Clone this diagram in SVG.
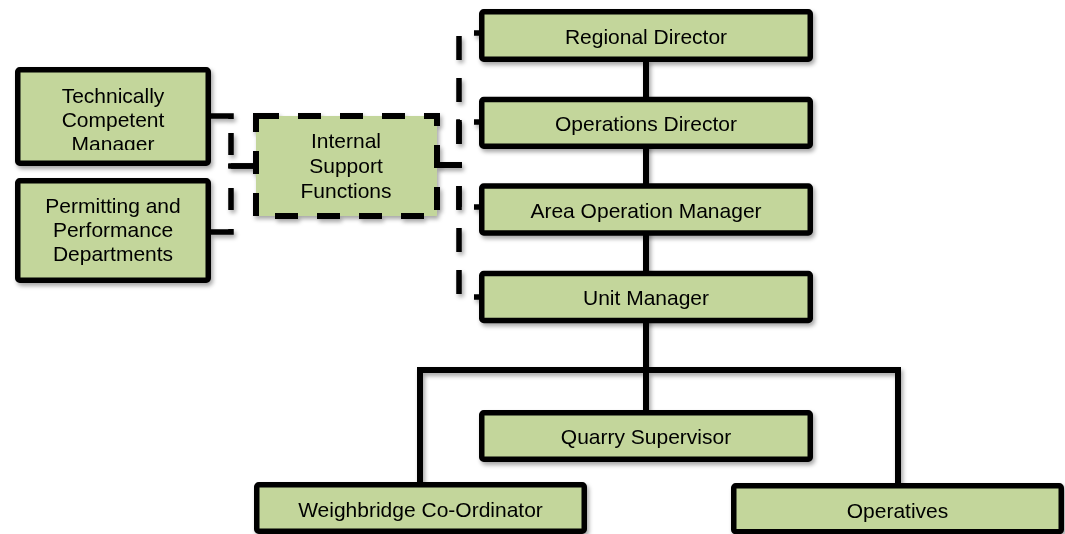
<svg xmlns="http://www.w3.org/2000/svg" width="1065" height="534" viewBox="0 0 1065 534">
<defs>
<filter id="sh" x="-10%" y="-20%" width="130%" height="150%">
<feDropShadow dx="2" dy="3" stdDeviation="2" flood-color="#000" flood-opacity="0.35"/>
</filter>
<clipPath id="clipTCM"><rect x="15" y="67" width="196" height="83"/></clipPath>
</defs>
<style>
.box{fill:#c3d69b;stroke:#000;stroke-width:5.5;stroke-linejoin:round}
.dbox{fill:#c3d69b;stroke:#000;stroke-width:6;stroke-dasharray:23 19}
.t{font-family:"Liberation Sans",Arial,sans-serif;font-size:21px;fill:#000;text-anchor:middle}
.solid{fill:none;stroke:#000;stroke-width:6}
.dash{fill:none;stroke:#000;stroke-width:5.5;stroke-dasharray:24 18}
</style>
<rect width="1065" height="534" fill="#fff"/>
<g id="connectors" filter="url(#sh)">
<path class="solid" d="M646,60 V412"/>
<path class="solid" d="M420,484 V370 H898 V486"/>
<path class="dash" d="M438,165 H459 V33 H480"/>
<path class="dash" style="stroke-dasharray:24 18 23 14 10" d="M438,165 H459 V122 H480"/>
<path class="dash" style="stroke-dasharray:24 18 22 14 10" d="M438,165 H459 V207 H480"/>
<path class="dash" d="M438,165 H459 V297 H480"/>
<path class="dash" style="stroke-dasharray:27 9 22 14 30" d="M256,166 H231 V116 H211"/>
<path class="dash" style="stroke-dasharray:27 20 22 19 30" d="M256,166 H231 V232 H211"/>
</g>
<g id="regional-director" filter="url(#sh)">
<rect class="box" x="481.75" y="11.75" width="328.5" height="47.5" rx="2"/>
<text class="t" x="646" y="43.5">Regional Director</text>
</g>
<g id="operations-director" filter="url(#sh)">
<rect class="box" x="481.75" y="99.5" width="328.5" height="46.75" rx="2"/>
<text class="t" x="646" y="131">Operations Director</text>
</g>
<g id="area-operation-manager" filter="url(#sh)">
<rect class="box" x="481.75" y="186" width="328.5" height="47" rx="2"/>
<text class="t" x="646" y="217.5">Area Operation Manager</text>
</g>
<g id="unit-manager" filter="url(#sh)">
<rect class="box" x="481.75" y="273.5" width="328.5" height="47" rx="2"/>
<text class="t" x="646" y="305">Unit Manager</text>
</g>
<g id="quarry-supervisor" filter="url(#sh)">
<rect class="box" x="481.75" y="412.75" width="328.5" height="46.5" rx="2"/>
<text class="t" x="646" y="444">Quarry Supervisor</text>
</g>
<g id="weighbridge-coordinator" filter="url(#sh)">
<rect class="box" x="256.75" y="484.75" width="327.5" height="46.5" rx="2"/>
<text class="t" x="420.5" y="517">Weighbridge Co-Ordinator</text>
</g>
<g id="operatives" filter="url(#sh)">
<rect class="box" x="733.75" y="485.75" width="327.5" height="46" rx="2"/>
<text class="t" x="897.5" y="518">Operatives</text>
</g>
<g id="internal-support-functions" filter="url(#sh)">
<rect class="dbox" x="256" y="116" width="181" height="100"/>
<text class="t" x="346" y="147.5">Internal</text>
<text class="t" x="346" y="172.5">Support</text>
<text class="t" x="346" y="197.5">Functions</text>
</g>
<g id="technically-competent-manager" filter="url(#sh)">
<rect class="box" x="17.75" y="69.75" width="190.5" height="93.5" rx="2"/>
<g clip-path="url(#clipTCM)">
<text class="t" x="113" y="102.5">Technically</text>
<text class="t" x="113" y="126.7">Competent</text>
<text class="t" x="113" y="150.8">Manager</text>
</g>
</g>
<g id="permitting-performance" filter="url(#sh)">
<rect class="box" x="17.75" y="180.75" width="190.5" height="99.5" rx="2"/>
<text class="t" x="113" y="212.6">Permitting and</text>
<text class="t" x="113" y="236.6">Performance</text>
<text class="t" x="113" y="260.6">Departments</text>
</g>
</svg>
